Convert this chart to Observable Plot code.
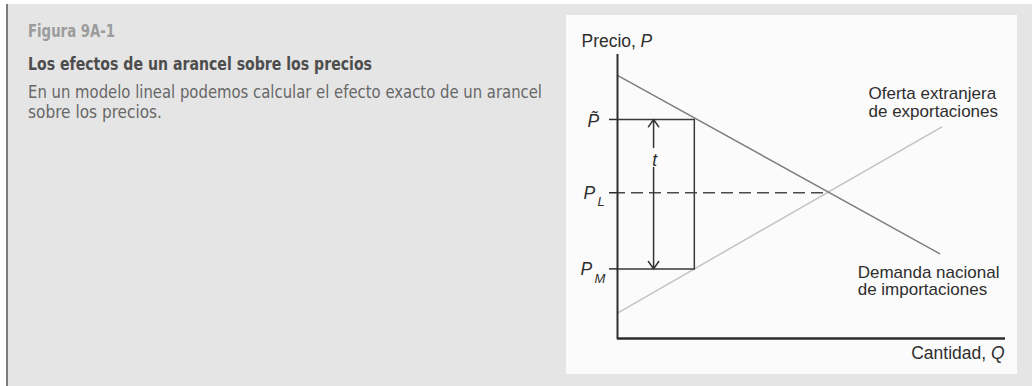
<!DOCTYPE html>
<html>
<head>
<meta charset="utf-8">
<script src="https://cdn.jsdelivr.net/npm/d3@7"></script>
<script src="https://cdn.jsdelivr.net/npm/@observablehq/plot@0.6"></script>
<style>
  html, body { margin: 0; padding: 0; background: #ffffff; }
  #page { position: relative; width: 1032px; height: 386px; overflow: hidden; background: #ffffff; }
  #bg { position: absolute; left: 6px; top: 4px; right: 0; bottom: 0; background: #e5e5e5; border-left: 2px solid #7c7c7c; }
  #panel { position: absolute; left: 566px; top: 15px; width: 451px; height: 359px; background: #fbfbfb; }
  #header { position: absolute; left: 0; top: 0; overflow: visible; }
  #chart { position: absolute; left: 0; top: 0; }
</style>
</head>
<body>
<div id="page">
  <div id="bg"></div>
  <div id="panel"></div>
  <svg id="header" width="700" height="140"></svg>
  <div id="chart"></div>
</div>
<script>
// ---------- texts ----------
const figureNumber = "Figura 9A-1";
const figureTitle = "Los efectos de un arancel sobre los precios";
const figureBody = ["En un modelo lineal podemos calcular el efecto exacto de un arancel", "sobre los precios."];

// ---------- data (0–100 units) ----------
const demandQ = [0, 83];
const demandP = [93, 30];
const supplyQ = [0, 83.5];
const supplyP = [9, 74.7];
const priceLevels = [77.4, 51.5, 24.6];        // P̃, P_L, P_M
const priceMain = ["P\u0303", "P", "P"];
const priceSub = ["", "L", "M"];
const qRect = 19.8;                            // right side of the tariff box
const qEq = 54;                                // free-trade equilibrium quantity
const qArrow = 9.3;                            // position of the t arrow
const arrowGap = [60.4, 67.5];                 // gap in the arrow for "t"
const tLabelP = 61.1;
const curveLabels = ["Oferta extranjera\nde exportaciones", "Demanda nacional\nde importaciones"];
const curveLabelQ = [64.7, 61.9];
const curveLabelP = [78.4, 15.2];
const yTitle = ["Precio, ", "P"];
const xTitle = ["Cantidad, ", "Q"];

// ---------- header (left text block) ----------
const hdr = d3.select("#header");
const narrow = "'Liberation Sans Narrow','DejaVu Sans Condensed','Liberation Sans',Arial,sans-serif";
function hText(str, y, size, weight, fill, len) {
  hdr.append("text").attr("x", 28).attr("y", y)
    .attr("font-family", narrow).attr("font-size", size).attr("font-weight", weight)
    .attr("fill", fill).attr("textLength", len).attr("lengthAdjust", "spacingAndGlyphs")
    .text(str);
}
hText(figureNumber, 37, 17, "bold", "#9b9b9b", 87);
hText(figureTitle, 70, 17.5, "bold", "#4d4d4d", 344);
hText(figureBody[0], 98, 17.5, "normal", "#676767", 514);
hText(figureBody[1], 118, 17.5, "normal", "#676767", 134);

// ---------- chart ----------
const demand = demandQ.map((q, i) => ({q, p: demandP[i]}));
const supply = supplyQ.map((q, i) => ({q, p: supplyP[i]}));
const [pT, pL, pM] = priceLevels;
const box = [{q: 0, p: pT}, {q: qRect, p: pT}, {q: qRect, p: pM}, {q: 0, p: pM}];
const arrows = [
  {x1: qArrow, y1: arrowGap[1], x2: qArrow, y2: pT},
  {x1: qArrow, y1: arrowGap[0], x2: qArrow, y2: pM}
];
const labels = curveLabels.map((t, i) => ({t, q: curveLabelQ[i], p: curveLabelP[i]}));
const ink = "#2e2e2e";
const fs = 17;

const chart = Plot.plot({
  width: 1032,
  height: 386,
  marginLeft: 617,
  marginRight: 27,
  marginTop: 55,
  marginBottom: 48,
  x: {domain: [0, 100], axis: null},
  y: {domain: [0, 100], axis: null},
  style: {background: "transparent", fontFamily: "'Liberation Sans', Arial, sans-serif", overflow: "visible"},
  marks: [
    Plot.line(supply, {x: "q", y: "p", stroke: "#c3c3c3", strokeWidth: 1.5}),
    Plot.line(demand, {x: "q", y: "p", stroke: "#7e7e7e", strokeWidth: 1.5}),
    Plot.ruleY([pL], {x1: 0, x2: qEq, stroke: "#4a4a4a", strokeWidth: 1.5, strokeDasharray: "12,6", strokeDashoffset: 4}),
    Plot.line(box, {x: "q", y: "p", stroke: "#3a3a3a", strokeWidth: 1.5}),
    Plot.arrow(arrows, {x1: "x1", y1: "y1", x2: "x2", y2: "y2", stroke: "#333", strokeWidth: 1.5, headLength: 9, headAngle: 70}),
    Plot.text(["t"], {x: qArrow, y: tLabelP, text: d => d, lineAnchor: "bottom", textAnchor: "middle", dx: 1, fontSize: 17.5, fontStyle: "italic", fill: ink}),
    Plot.axisY({ticks: priceLevels, tickSize: 8, tickFormat: () => "", stroke: ink, strokeWidth: 1.5, label: null}),
    Plot.ruleX([0], {y1: 0, y2: 100, stroke: ink, strokeWidth: 2, strokeLinecap: "square"}),
    Plot.ruleY([0], {x1: 0, x2: 100, stroke: ink, strokeWidth: 2.5}),
    // price labels on the y axis
    Plot.text([priceMain[0]], {x: 0, y: pT, text: d => d, lineAnchor: "bottom", textAnchor: "start", dx: -30, dy: 7.5, fontSize: 17.5, fontStyle: "italic", fill: ink}),
    Plot.text([priceMain[1]], {x: 0, y: pL, text: d => d, lineAnchor: "bottom", textAnchor: "start", dx: -34, dy: 6.5, fontSize: 17.5, fontStyle: "italic", fill: ink}),
    Plot.text([priceSub[1]], {x: 0, y: pL, text: d => d, lineAnchor: "bottom", textAnchor: "start", dx: -20, dy: 13.5, fontSize: 13, fontStyle: "italic", fill: ink}),
    Plot.text([priceMain[2]], {x: 0, y: pM, text: d => d, lineAnchor: "bottom", textAnchor: "start", dx: -37, dy: 6, fontSize: 17.5, fontStyle: "italic", fill: ink}),
    Plot.text([priceSub[2]], {x: 0, y: pM, text: d => d, lineAnchor: "bottom", textAnchor: "start", dx: -23, dy: 14.5, fontSize: 13, fontStyle: "italic", fill: ink}),
    // curve labels
    Plot.text(labels, {x: "q", y: "p", text: "t", lineAnchor: "bottom", textAnchor: "start", lineHeight: 1.02, fontSize: fs, fill: ink}),
    // axis titles
    Plot.text([yTitle[0]], {x: 0, y: 100, text: d => d, lineAnchor: "bottom", textAnchor: "start", dx: -36, dy: -9, fontSize: 17.5, fill: ink}),
    Plot.text([yTitle[1]], {x: 0, y: 100, text: d => d, lineAnchor: "bottom", textAnchor: "start", dx: 23, dy: -9, fontSize: 17.5, fontStyle: "italic", fill: ink}),
    Plot.text([xTitle[1]], {x: 100, y: 0, text: d => d, lineAnchor: "bottom", textAnchor: "end", dx: -1, dy: 20, fontSize: 17.5, fontStyle: "italic", fill: ink}),
    Plot.text([xTitle[0]], {x: 100, y: 0, text: d => d, lineAnchor: "bottom", textAnchor: "end", dx: -14.5, dy: 20, fontSize: 17.5, fill: ink, style: "white-space:pre"})
  ]
});
document.getElementById("chart").appendChild(chart);
</script>
</body>
</html>
